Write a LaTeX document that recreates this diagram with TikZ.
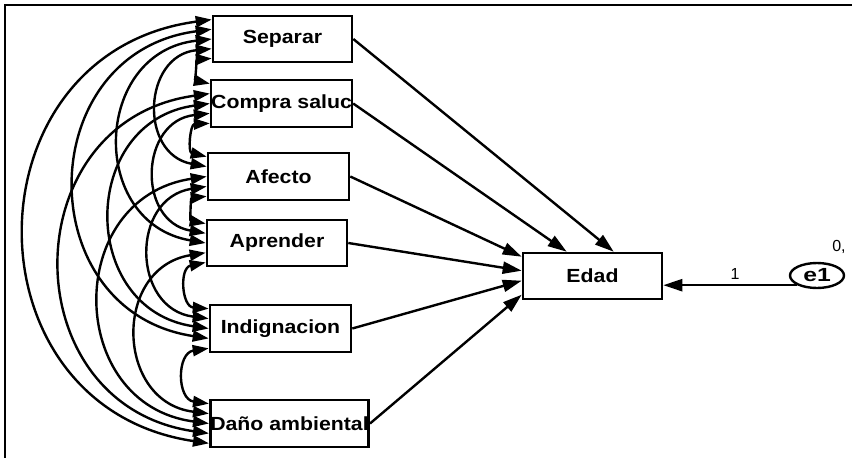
\documentclass[tikz,border=0pt]{standalone}
\usepackage{fontspec}
\setmainfont{Liberation Sans}
\usepackage{graphicx}
\usetikzlibrary{arrows.meta,calc,shapes.geometric}
\newcommand{\lbl}[1]{\scalebox{1.12}[1]{\bfseries #1}}
\begin{document}
\begin{tikzpicture}[x=1pt,y=-1pt,
  box/.style={draw, line width=2.6pt, rectangle, inner sep=0pt, font=\fontsize{19}{21}\selectfont},
  cov/.style={line width=2.4pt, {Triangle[length=16pt,width=11pt]}-{Triangle[length=16pt,width=11pt]}, bend right=82, looseness=1.5},
  reg/.style={line width=2.4pt, -{Triangle[length=19pt,width=12pt]}},
  small/.style={font=\fontsize{16}{17}\selectfont, inner sep=0pt}
  ]
\useasboundingbox (0,0) rectangle (852,458);
\draw[line width=2.8pt] (852,5) -- (5,5) -- (5,458);

\node[box, minimum width=139pt, minimum height=46pt] (sep) at (282.5,39) {\lbl{Separar}};
\node[box, minimum width=139pt, minimum height=47pt] (com) at (281.5,103.5) {\lbl{Compra saluc}};
\node[box, minimum width=141pt, minimum height=47pt] (afe) at (278.5,176.5) {\lbl{Afecto}};
\node[box, minimum width=140pt, minimum height=46pt] (apr) at (277,243) {\lbl{Aprender}};
\node[box, minimum width=141pt, minimum height=47pt] (ind) at (280.5,328.5) {\lbl{Indignacion}};
\node[box, minimum width=141pt, minimum height=47pt] (dan) at (289.5,423.5) {\lbl{Daño ambiental}};
\node[box, minimum width=139pt, minimum height=46pt] (edad) at (592.5,276) {\lbl{Edad}};
\node[draw, ellipse, line width=2.4pt, inner sep=0pt, minimum width=54pt, minimum height=25pt] (e1) at (817,275.5) {\fontsize{19}{20}\selectfont\scalebox{1.3}[1]{\bfseries e1}};

\foreach \n in {sep,com,afe,apr,ind,dan}{
  \foreach \i in {0,...,4}{
    \pgfmathsetmacro{\f}{(\i+0.5)/5}
    \coordinate (\n-\i) at ($(\n.north west)!\f!(\n.south west)$);
  }
}

% covariances
\draw[cov] (sep-0) to (dan-4);
\draw[cov] (sep-1) to (ind-3);
\draw[cov] (sep-2) to (apr-2);
\draw[cov] (sep-3) to (afe-1);
\draw[cov] (sep-4) to (com-0);
\draw[cov] (com-1) to (dan-3);
\draw[cov] (com-2) to (ind-2);
\draw[cov] (com-3) to (apr-1);
\draw[cov] (com-4) to (afe-0);
\draw[cov] (afe-2) to (dan-2);
\draw[cov] (afe-3) to (ind-1);
\draw[cov] (afe-4) to (apr-0);
\draw[cov] (apr-3) to (dan-1);
\draw[cov] (apr-4) to (ind-0);
\draw[cov] (ind-4) to (dan-0);

% regressions
\coordinate (t1) at ($(edad.north west)+(92,0)$);
\coordinate (t2) at ($(edad.north west)+(45,0)$);
\coordinate (t3) at ($(edad.north west)+(0,5)$);
\coordinate (t4) at ($(edad.north west)+(0,19)$);
\coordinate (t5) at ($(edad.north west)+(0,29)$);
\coordinate (t6) at ($(edad.north west)+(0,43)$);
\draw[reg] (sep.east) -- (t1);
\draw[reg] (com.east) -- (t2);
\draw[reg] (afe.east) -- (t3);
\draw[reg] (apr.east) -- (t4);
\draw[reg] (ind.east) -- (t5);
\draw[reg] (dan.east) -- (t6);

\draw[reg] (e1.south west) -- (e1.south west -| edad.east);
\node[small] (one) at (735,274) {1};
\node[small] (zero) at (839,247) {0,};
\end{tikzpicture}
\end{document}
